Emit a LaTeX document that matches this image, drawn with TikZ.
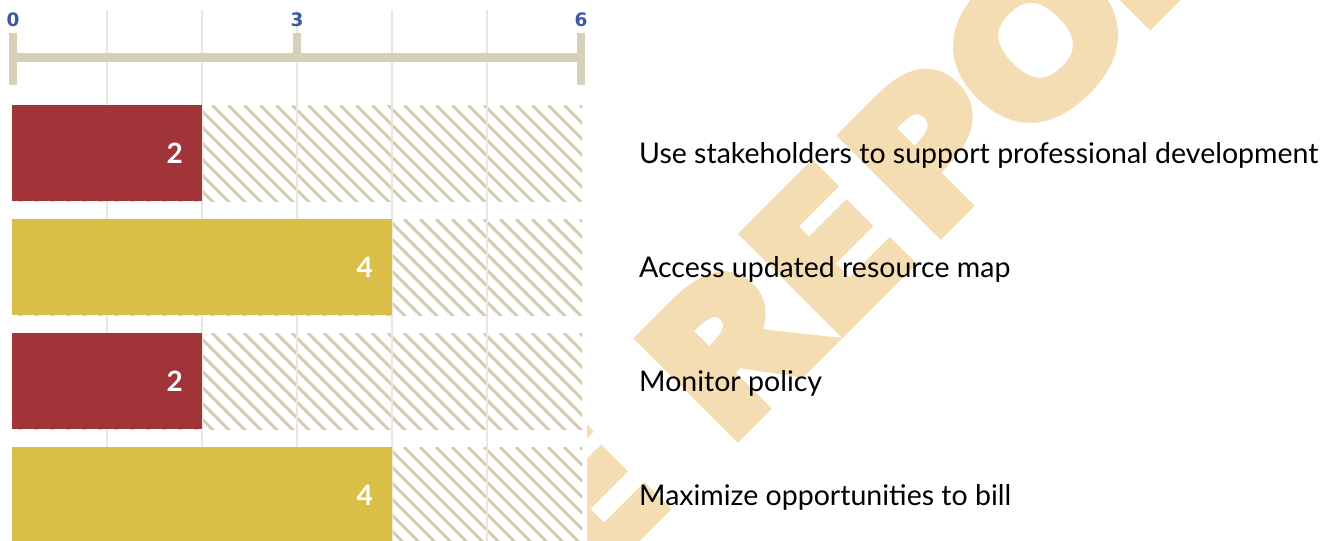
\documentclass[tikz,border=0pt]{standalone}
\usepackage{fontspec}
\setmainfont{Lato}
\newfontfamily\wmfont{Open Sans}[BoldFeatures={FakeBold=8,FakeStretch=1.18}]
\newfontfamily\axfont{DejaVu Sans}
\definecolor{barred}{HTML}{A13438}
\definecolor{bargold}{HTML}{D9BF47}
\definecolor{hatchc}{HTML}{D4CDB0}
\definecolor{gridc}{HTML}{EAE7E0}
\definecolor{axisc}{HTML}{D7D0B9}
\definecolor{axblue}{HTML}{3E58A0}
\definecolor{wmc}{HTML}{F4DDB3}
\begin{document}
\begin{tikzpicture}[x=1pt,y=-1pt,
  wm/.style={text=wmc, font=\wmfont\bfseries\fontsize{186}{186}\selectfont, inner sep=0pt, rotate=45, anchor=base west},
  lab/.style={font=\fontsize{28.5}{28.5}\selectfont, text=black, inner sep=0pt, anchor=base west},
  val/.style={font=\bfseries\fontsize{28}{28}\selectfont, text=white, inner sep=0pt, anchor=base east},
  axl/.style={font=\axfont\bfseries\fontsize{18.5}{18.5}\selectfont, text=axblue, inner sep=0pt},
  hatchline/.style={draw=hatchc, line width=3pt},
  gridline/.style={draw=gridc, line width=2.5pt},
  axisline/.style={draw=axisc, line width=9pt},
  ticks/.style={draw=axisc, line width=8pt},
]
\useasboundingbox (0,0) rectangle (1334,541);
\fill[white] (0,0) rectangle (1334,541);
% watermark
\node[wm] (wmE1) at (583,587) {E};
\node[wm] (wmR1) at (723.7,446.3) {R};
\node[wm] (wmE2) at (828.3,341.7) {E};
\node[wm] (wmP) at (926.6,243.4) {P};
\node[wm] (wmO) at (1020.7,149.3) {O};
\node[wm] (wmR2) at (1136,34) {R};
% chart area covers the watermark
\fill[white] (0,0) rectangle (587,541);
% hatched backgrounds
\foreach \i in {0,1,2,3}{
  \pgfmathsetmacro\yt{105+114*\i}
  \pgfmathsetmacro\yb{\yt+96}
  \begin{scope}
    \clip (12,\yt) rectangle (582,\yb);
    \foreach \k in {0,...,42}{
      \draw[hatchline] ({12-104+16*\k},\yt) -- ++(104,104);
    }
  \end{scope}
}
% grid lines
\foreach \g in {1,...,5}{
  \draw[gridline] ({12+95*\g},10) -- ({12+95*\g},541);
}
% bars and values
\foreach \i/\v/\c in {0/2/barred,1/4/bargold,2/2/barred,3/4/bargold}{
  \pgfmathsetmacro\yt{105+114*\i}
  \pgfmathsetmacro\yb{\yt+96}
  \pgfmathsetmacro\xe{12+95*\v}
  \fill[\c] (12,\yt) rectangle (\xe,\yb);
  \node[val] (val\i) at ({\xe-19},{\yt+58}) {\v};
}
% axis
\draw[axisline] (12,57) -- (582,57);
\draw[ticks] (13,33) -- (13,85);
\draw[ticks] (297,33) -- (297,57);
\draw[ticks] (581,33) -- (581,85);
\node[axl] (ax0) at (13,20) {0};
\node[axl] (ax3) at (297,20) {3};
\node[axl] (ax6) at (581,20) {6};
% labels
\node[lab] (lab1) at (639,163) {Use stakeholders to support professional development};
\node[lab] (lab2) at (639,277) {Access updated resource map};
\node[lab] (lab3) at (639,391) {Monitor policy};
\node[lab] (lab4) at (639,505) {Maximize opportunities to bill};
\end{tikzpicture}
\end{document}
